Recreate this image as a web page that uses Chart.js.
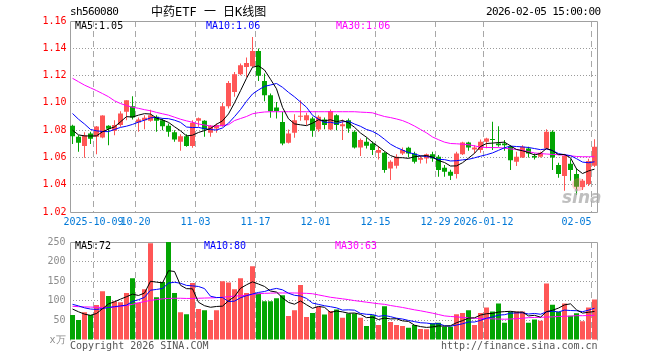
<!DOCTYPE html>
<html>
<head>
<meta charset="utf-8">
<script src="https://cdn.jsdelivr.net/npm/chart.js@4.4.1/dist/chart.umd.min.js"></script>
<style>
body { margin: 0; background: #fff; }
#wrap { position: relative; width: 660px; height: 360px; overflow: hidden; font-family: "DejaVu Sans Mono", monospace; font-size: 10px; }
#wrap canvas { position: absolute; left: 0; }
.t { position: absolute; white-space: pre; line-height: 12px; }
</style>
</head>
<body>
<div id="wrap">
  <canvas id="kChart" width="660" height="232" style="top:0"></canvas>
  <canvas id="volChart" width="660" height="128" style="top:232px"></canvas>

  <span class="t" style="left:70px;top:6px;font-size:11px;letter-spacing:-0.6px">sh560080</span>
  <span class="t" style="left:151px;top:5px;font-size:12px;line-height:14px;font-family:'DejaVu Sans Mono','Noto Sans CJK SC',monospace">中药ETF 一 日K线图</span>
  <span class="t" style="left:486px;top:6px;font-size:11px;letter-spacing:-0.6px">2026-02-05 15:00:00</span>

  <span class="t" style="left:75px;top:20px;color:#000">MA5:1.05</span>
  <span class="t" style="left:206px;top:20px;color:#0000ff">MA10:1.06</span>
  <span class="t" style="left:336px;top:20px;color:#ff00ff">MA30:1.06</span>

  <span class="t" style="left:75px;top:240px;color:#000">MA5:72</span>
  <span class="t" style="left:204px;top:240px;color:#0000ff">MA10:80</span>
  <span class="t" style="left:335px;top:240px;color:#ff00ff">MA30:63</span>

  <div style="position:absolute;left:572px;top:178px;width:13px;height:13px;border-radius:50%;background:rgba(255,110,110,0.35)"></div>
  <span class="t" style="left:562px;top:189px;font:italic bold 17px 'DejaVu Sans',sans-serif;line-height:16px;color:rgba(170,170,170,0.75)">sina</span>

  <span class="t" style="left:70px;top:340px;color:#555">Copyright 2026 SINA.COM</span>
  <span class="t" style="left:441px;top:340px;color:#555">http://finance.sina.com.cn</span>
</div>

<script>
// trading days shown on the chart
var dates = [
  '2025-09-25','2025-09-26','2025-09-29','2025-09-30','2025-10-09','2025-10-10','2025-10-13','2025-10-14','2025-10-15','2025-10-16',
  '2025-10-17','2025-10-20','2025-10-21','2025-10-22','2025-10-23','2025-10-24','2025-10-27','2025-10-28','2025-10-29','2025-10-30',
  '2025-10-31','2025-11-03','2025-11-04','2025-11-05','2025-11-06','2025-11-07','2025-11-10','2025-11-11','2025-11-12','2025-11-13',
  '2025-11-14','2025-11-17','2025-11-18','2025-11-19','2025-11-20','2025-11-21','2025-11-24','2025-11-25','2025-11-26','2025-11-27',
  '2025-11-28','2025-12-01','2025-12-02','2025-12-03','2025-12-04','2025-12-05','2025-12-08','2025-12-09','2025-12-10','2025-12-11',
  '2025-12-12','2025-12-15','2025-12-16','2025-12-17','2025-12-18','2025-12-19','2025-12-22','2025-12-23','2025-12-24','2025-12-25',
  '2025-12-26','2025-12-29','2025-12-30','2025-12-31','2026-01-05','2026-01-06','2026-01-07','2026-01-08','2026-01-09','2026-01-12',
  '2026-01-13','2026-01-14','2026-01-15','2026-01-16','2026-01-19','2026-01-20','2026-01-21','2026-01-22','2026-01-23','2026-01-26',
  '2026-01-27','2026-01-28','2026-01-29','2026-01-30','2026-02-02','2026-02-03','2026-02-04','2026-02-05'
];

var tickDates = ['2025-10-09','2025-10-20','2025-11-03','2025-11-17','2025-12-01','2025-12-15','2025-12-29','2026-01-12','2026-02-05'];
var tickTexts = ['2025-10-09','10-20','11-03','11-17','12-01','12-15','12-29','2026-01-12','02-05'];

var openP = [
  1.0832,1.0751,1.0683,1.0776,1.0751,1.0746,1.0832,1.0795,1.0837,1.0934,
  1.0976,1.0856,1.0873,1.0868,1.0898,1.0873,1.0832,1.0785,1.0715,1.0756,
  1.0683,1.0868,1.0868,1.0780,1.0812,1.0829,1.0976,1.1080,1.1210,1.1263,
  1.1268,1.1380,1.1161,1.1056,1.0966,1.0859,1.0707,1.0780,1.0898,1.0873,
  1.0885,1.0805,1.0878,1.0805,1.0910,1.0829,1.0873,1.0788,1.0673,1.0715,
  1.0702,1.0634,1.0634,1.0519,1.0539,1.0629,1.0671,1.0629,1.0583,1.0593,
  1.0624,1.0605,1.0524,1.0495,1.0478,1.0624,1.0710,1.0659,1.0654,1.0715,
  1.0732,1.0702,1.0702,1.0678,1.0568,1.0600,1.0666,1.0610,1.0605,1.0666,
  1.0788,1.0544,1.0463,1.0553,1.0478,1.0383,1.0405,1.0539
];
var highP = [
  1.0839,1.0762,1.0785,1.0788,1.0830,1.0910,1.0836,1.0873,1.0939,1.1020,
  1.1049,1.0893,1.0910,1.0950,1.0910,1.0885,1.0849,1.0800,1.0770,1.0770,
  1.0873,1.0893,1.0873,1.0837,1.0849,1.1000,1.1160,1.1227,1.1288,1.1332,
  1.1483,1.1398,1.1215,1.1068,1.1007,1.0934,1.0805,1.0917,1.1020,1.0927,
  1.0898,1.0910,1.0893,1.0951,1.0917,1.0878,1.0885,1.0800,1.0739,1.0746,
  1.0717,1.0683,1.0641,1.0580,1.0624,1.0673,1.0678,1.0641,1.0612,1.0629,
  1.0641,1.0617,1.0544,1.0510,1.0641,1.0715,1.0715,1.0690,1.0732,1.0744,
  1.0861,1.0829,1.0727,1.0690,1.0641,1.0690,1.0678,1.0629,1.0641,1.0807,
  1.0800,1.0561,1.0624,1.0586,1.0520,1.0441,1.0590,1.0734
];
var lowP = [
  1.0698,1.0641,1.0598,1.0698,1.0624,1.0740,1.0690,1.0763,1.0824,1.0873,
  1.0878,1.0788,1.0807,1.0861,1.0788,1.0800,1.0751,1.0715,1.0649,1.0678,
  1.0671,1.0824,1.0751,1.0751,1.0780,1.0824,1.0958,1.1044,1.1202,1.1190,
  1.1263,1.1161,1.1012,1.0890,1.0885,1.0690,1.0702,1.0744,1.0868,1.0837,
  1.0751,1.0788,1.0807,1.0800,1.0800,1.0727,1.0780,1.0666,1.0610,1.0666,
  1.0617,1.0585,1.0488,1.0434,1.0519,1.0617,1.0600,1.0556,1.0556,1.0556,
  1.0568,1.0459,1.0459,1.0434,1.0446,1.0617,1.0649,1.0629,1.0634,1.0668,
  1.0654,1.0678,1.0649,1.0507,1.0537,1.0595,1.0600,1.0585,1.0600,1.0659,
  1.0507,1.0451,1.0356,1.0429,1.0324,1.0361,1.0390,1.0530
];
var closeP = [
  1.0756,1.0707,1.0761,1.0737,1.0827,1.0907,1.0810,1.0837,1.0922,1.1020,
  1.0893,1.0878,1.0890,1.0910,1.0868,1.0829,1.0788,1.0732,1.0756,1.0683,
  1.0854,1.0888,1.0805,1.0832,1.0837,1.0976,1.1146,1.1210,1.1276,1.1293,
  1.1380,1.1198,1.1056,1.0939,1.0941,1.0702,1.0776,1.0873,1.0902,1.0910,
  1.0795,1.0898,1.0837,1.0941,1.0837,1.0844,1.0812,1.0673,1.0727,1.0685,
  1.0654,1.0654,1.0507,1.0568,1.0605,1.0654,1.0629,1.0568,1.0595,1.0624,
  1.0593,1.0507,1.0495,1.0466,1.0629,1.0710,1.0673,1.0673,1.0715,1.0739,
  1.0727,1.0690,1.0690,1.0580,1.0605,1.0678,1.0629,1.0600,1.0634,1.0788,
  1.0600,1.0478,1.0612,1.0507,1.0385,1.0429,1.0573,1.0678
];

var ma5 = [
  1.0800,1.0765,1.0758,1.0757,1.0758,1.0788,1.0808,1.0824,1.0861,1.0899,
  1.0896,1.0910,1.0921,1.0918,1.0888,1.0875,1.0857,1.0825,1.0795,1.0758,
  1.0763,1.0783,1.0797,1.0812,1.0843,1.0868,1.0919,1.1000,1.1089,1.1180,
  1.1261,1.1271,1.1241,1.1173,1.1103,1.0967,1.0883,1.0846,1.0839,1.0833,
  1.0851,1.0876,1.0868,1.0876,1.0862,1.0871,1.0854,1.0821,1.0779,1.0748,
  1.0710,1.0679,1.0645,1.0614,1.0598,1.0598,1.0593,1.0605,1.0610,1.0614,
  1.0602,1.0577,1.0563,1.0537,1.0538,1.0561,1.0595,1.0630,1.0680,1.0702,
  1.0705,1.0709,1.0712,1.0685,1.0658,1.0649,1.0636,1.0618,1.0629,1.0666,
  1.0650,1.0620,1.0622,1.0597,1.0516,1.0482,1.0501,1.0514
];
var ma10 = [
  1.0922,1.0880,1.0845,1.0805,1.0795,1.0790,1.0789,1.0805,1.0820,1.0829,
  1.0842,1.0859,1.0873,1.0890,1.0894,1.0886,1.0884,1.0873,1.0857,1.0823,
  1.0819,1.0820,1.0811,1.0804,1.0801,1.0816,1.0851,1.0899,1.0951,1.1012,
  1.1065,1.1095,1.1121,1.1131,1.1142,1.1114,1.1077,1.1044,1.1006,1.0968,
  1.0909,1.0880,1.0857,1.0858,1.0848,1.0861,1.0865,1.0845,1.0828,1.0805,
  1.0791,1.0767,1.0733,1.0697,1.0673,1.0654,1.0636,1.0625,1.0612,1.0606,
  1.0600,1.0585,1.0584,1.0574,1.0576,1.0582,1.0586,1.0597,1.0609,1.0620,
  1.0633,1.0652,1.0671,1.0683,1.0680,1.0677,1.0673,1.0665,1.0657,1.0662,
  1.0650,1.0628,1.0620,1.0613,1.0591,1.0566,1.0561,1.0568
];
var ma30 = [
  1.1180,1.1155,1.1130,1.1110,1.1090,1.1068,1.1045,1.1015,1.0995,1.0980,
  1.0968,1.0960,1.0950,1.0942,1.0930,1.0920,1.0910,1.0895,1.0880,1.0868,
  1.0858,1.0845,1.0838,1.0830,1.0828,1.0835,1.0840,1.0870,1.0885,1.0900,
  1.0920,1.0928,1.0933,1.0935,1.0935,1.0935,1.0935,1.0935,1.0935,1.0935,
  1.0935,1.0935,1.0935,1.0935,1.0935,1.0935,1.0935,1.0935,1.0932,1.0930,
  1.0927,1.0913,1.0900,1.0892,1.0882,1.0870,1.0852,1.0830,1.0805,1.0780,
  1.0750,1.0730,1.0712,1.0702,1.0700,1.0697,1.0693,1.0685,1.0675,1.0673,
  1.0672,1.0672,1.0668,1.0662,1.0659,1.0652,1.0642,1.0633,1.0628,1.0625,
  1.0622,1.0620,1.0617,1.0612,1.0607,1.0605,1.0605,1.0605
];

// volume, in 10k units
var volume = [
  63.5,51,71,63.5,89,124.5,112,99,96.5,120,
  157.5,95,129.5,247,109,148,250,120,71,66,
  145.7,79,76,51,76,150,147,129.5,157.5,120,
  188,118.6,99,99,106.7,114,61,76,140,58.5,
  68.6,84.7,65,74,78,57,67.5,67.5,57,36,
  63,38,86,46,38,36,31,38,28,27.5,
  42.5,44,34,34,66,69,76,38,69,83,
  73,93,44,73,73,73,44,52,49,144,
  90,72,93,62,68,48,83,103
];
var volMa5 = [
  79,72,66,63,67.6,79.8,92,97.6,104.2,110.4,
  117,113.6,119.7,149.8,147.6,145.7,176.7,174.8,139.6,131,
  130.5,96.3,87.5,83.5,85.5,86.4,100,110.7,132,140.8,
  148.4,142.7,136.6,124.9,122.3,107.5,95.9,91.3,99.5,89.9,
  80.8,85.6,83.4,70.2,74.1,71.7,68.3,68.8,65.4,57,
  58.2,52.3,56,53.8,54.2,48.8,47.4,37.8,34.2,32.1,
  33.4,36,35.2,36.4,44.1,49.4,55.8,56.6,63.6,67,
  67.8,71.2,72.4,73.2,71.2,71.2,61.4,63,58.2,72.4,
  75.8,81.4,89.6,92.2,77,68.6,70.8,72.8
];
var volMa10 = [
  91,87,82,79,78,80,83,85,87,89,
  98.4,102.8,108.7,127,129,131.4,145.2,147.3,144.7,139.3,
  138.1,136.5,131.2,111.6,108.3,108.5,98.2,99.1,107.8,113.2,
  117.4,121.4,123.7,128.5,131.6,128,119.3,114,112.2,106.1,
  94.2,90.8,87.4,84.9,82,76.3,77,76.1,67.8,65.6,
  65,60.3,62.4,59.6,55.6,53.5,49.9,46.9,44,43.2,
  41.1,41.7,36.5,35.3,38.1,41.4,45.9,45.9,50,55.6,
  58.6,63.5,64.5,68.4,69.1,69.5,66.3,67.7,65.7,71.8,
  73.5,71.4,76.3,75.2,74.7,72.2,76.1,81.2
];
var volMa30 = [
  86,85,84.5,84,83.5,83,83,84,86,88,
  91,95,98,101,103,105,106,106.5,106.5,106,
  106,106.5,107,107.5,108,109,110.5,112,113,114,
  116,118,119,119.5,120,120,120,120,119.5,119,
  118,115,112,109,107,105,103,100.5,98.5,96.5,
  94.5,92.5,91,88,85.5,83,80,77,74.5,71.5,
  68.5,65,61.5,60,59,57.5,56.5,55.5,55,54.5,
  54,53.5,53,53.5,54.5,55.5,57,57.5,58,58.5,
  59,60,60.5,61,62,62,62.5,63
];

var upColor = '#ff5656';
var downColor = '#03a503';
var candleColors = closeP.map(function (c, i) { return c >= openP[i] ? upColor : downColor; });

var tickMap = {};
tickDates.forEach(function (d, k) { tickMap[d] = tickTexts[k]; });

var monoFont = { family: "'DejaVu Sans Mono', monospace", size: 10 };

function vGridColor(ctx) {
    return tickMap[dates[ctx.index]] !== undefined ? '#a8a8a8' : 'rgba(0,0,0,0)';
}

function lineSet(data, color) {
    return {
        type: 'line', data: data, borderColor: color, borderWidth: 1,
        pointRadius: 0, tension: 0, fill: false, order: 0
    };
}

// grey frame round the plot area
var frame = {
    id: 'frame',
    beforeDatasetsDraw: function (chart, args, opts) {
        var a = chart.chartArea, c = chart.ctx;
        var l = Math.ceil(a.left) + 0.5, r = Math.floor(a.right) + 0.5;
        var t = Math.ceil(a.top) + 0.5, b = Math.floor(a.bottom) + 0.5;
        c.save();
        c.strokeStyle = '#a0a0a0';
        c.lineWidth = 1;
        c.beginPath();
        c.moveTo(l, b); c.lineTo(l, t); c.lineTo(r, t); c.lineTo(r, b);
        if (opts.bottom) c.lineTo(l, b);
        c.stroke();
        c.restore();
    }
};

new Chart(document.getElementById('kChart'), {
    type: 'bar',
    data: {
        labels: dates,
        datasets: [
            lineSet(ma5, '#000000'),
            lineSet(ma10, '#0000ff'),
            lineSet(ma30, '#ff00ff'),
            {
                data: openP.map(function (o, i) { return [o, closeP[i]]; }),
                backgroundColor: candleColors, borderWidth: 0, barThickness: 5,
                minBarLength: 1, grouped: false, inflateAmount: 0, order: 1
            },
            {
                data: lowP.map(function (l, i) { return [l, highP[i]]; }),
                backgroundColor: candleColors, borderWidth: 0, barThickness: 1,
                grouped: false, inflateAmount: 0, order: 2
            }
        ]
    },
    options: {
        responsive: false,
        devicePixelRatio: 1,
        animation: false,
        layout: { padding: { top: 21, right: 62.5, bottom: 0, left: 0 } },
        plugins: { legend: { display: false }, tooltip: { enabled: false }, frame: { bottom: true } },
        scales: {
            x: {
                offset: true,
                grid: { offset: true, color: vGridColor, drawTicks: false, lineWidth: 1 },
                border: { display: false, dash: [6, 4] },
                ticks: {
                    autoSkip: false, maxRotation: 0, minRotation: 0, padding: 4,
                    labelOffset: -3, color: '#0078d7', font: monoFont,
                    callback: function (v, i) {
                        var s = tickMap[dates[i]];
                        if (s === undefined) return '';
                        return i === dates.length - 1 ? s + '     ' : s;
                    }
                },
                afterFit: function (s) { s.height = 20; }
            },
            y: {
                min: 1.02, max: 1.16,
                grid: {
                    drawTicks: false,
                    color: function (ctx) {
                        var v = ctx.tick ? ctx.tick.value : 0;
                        return (v > 1.021 && v < 1.159) ? '#9a9a9a' : 'rgba(0,0,0,0)';
                    }
                },
                border: { display: false, dash: [1, 2] },
                ticks: {
                    stepSize: 0.02, padding: 3, color: '#ff0000', font: monoFont,
                    callback: function (v) { return Number(v).toFixed(2); }
                },
                afterFit: function (s) { s.width = 69.5; }
            }
        }
    },
    plugins: [frame]
});

new Chart(document.getElementById('volChart'), {
    type: 'bar',
    data: {
        labels: dates,
        datasets: [
            lineSet(volMa5, '#000000'),
            lineSet(volMa10, '#0000ff'),
            lineSet(volMa30, '#ff00ff'),
            {
                data: volume, backgroundColor: candleColors, borderWidth: 0,
                barThickness: 5, grouped: false, inflateAmount: 0, order: 1
            }
        ]
    },
    options: {
        responsive: false,
        devicePixelRatio: 1,
        animation: false,
        layout: { padding: { top: 9, right: 62.5, bottom: 0, left: 0 } },
        plugins: { legend: { display: false }, tooltip: { enabled: false }, frame: { bottom: false } },
        scales: {
            x: {
                offset: true,
                grid: { offset: true, color: vGridColor, drawTicks: false },
                border: { display: false, dash: [6, 4] },
                ticks: { display: false },
                afterFit: function (s) { s.height = 20; }
            },
            y: {
                min: 0, max: 250,
                grid: {
                    drawTicks: false,
                    color: function (ctx) {
                        var v = ctx.tick ? ctx.tick.value : 0;
                        return (v > 0 && v < 250) ? '#9a9a9a' : 'rgba(0,0,0,0)';
                    }
                },
                border: { display: false, dash: [1, 2] },
                ticks: {
                    stepSize: 50, padding: 4, color: '#8c8c8c', font: monoFont,
                    callback: function (v) { return v === 0 ? 'x万' : String(v); }
                },
                afterFit: function (s) { s.width = 69.5; }
            }
        }
    },
    plugins: [frame]
});
</script>
</body>
</html>
